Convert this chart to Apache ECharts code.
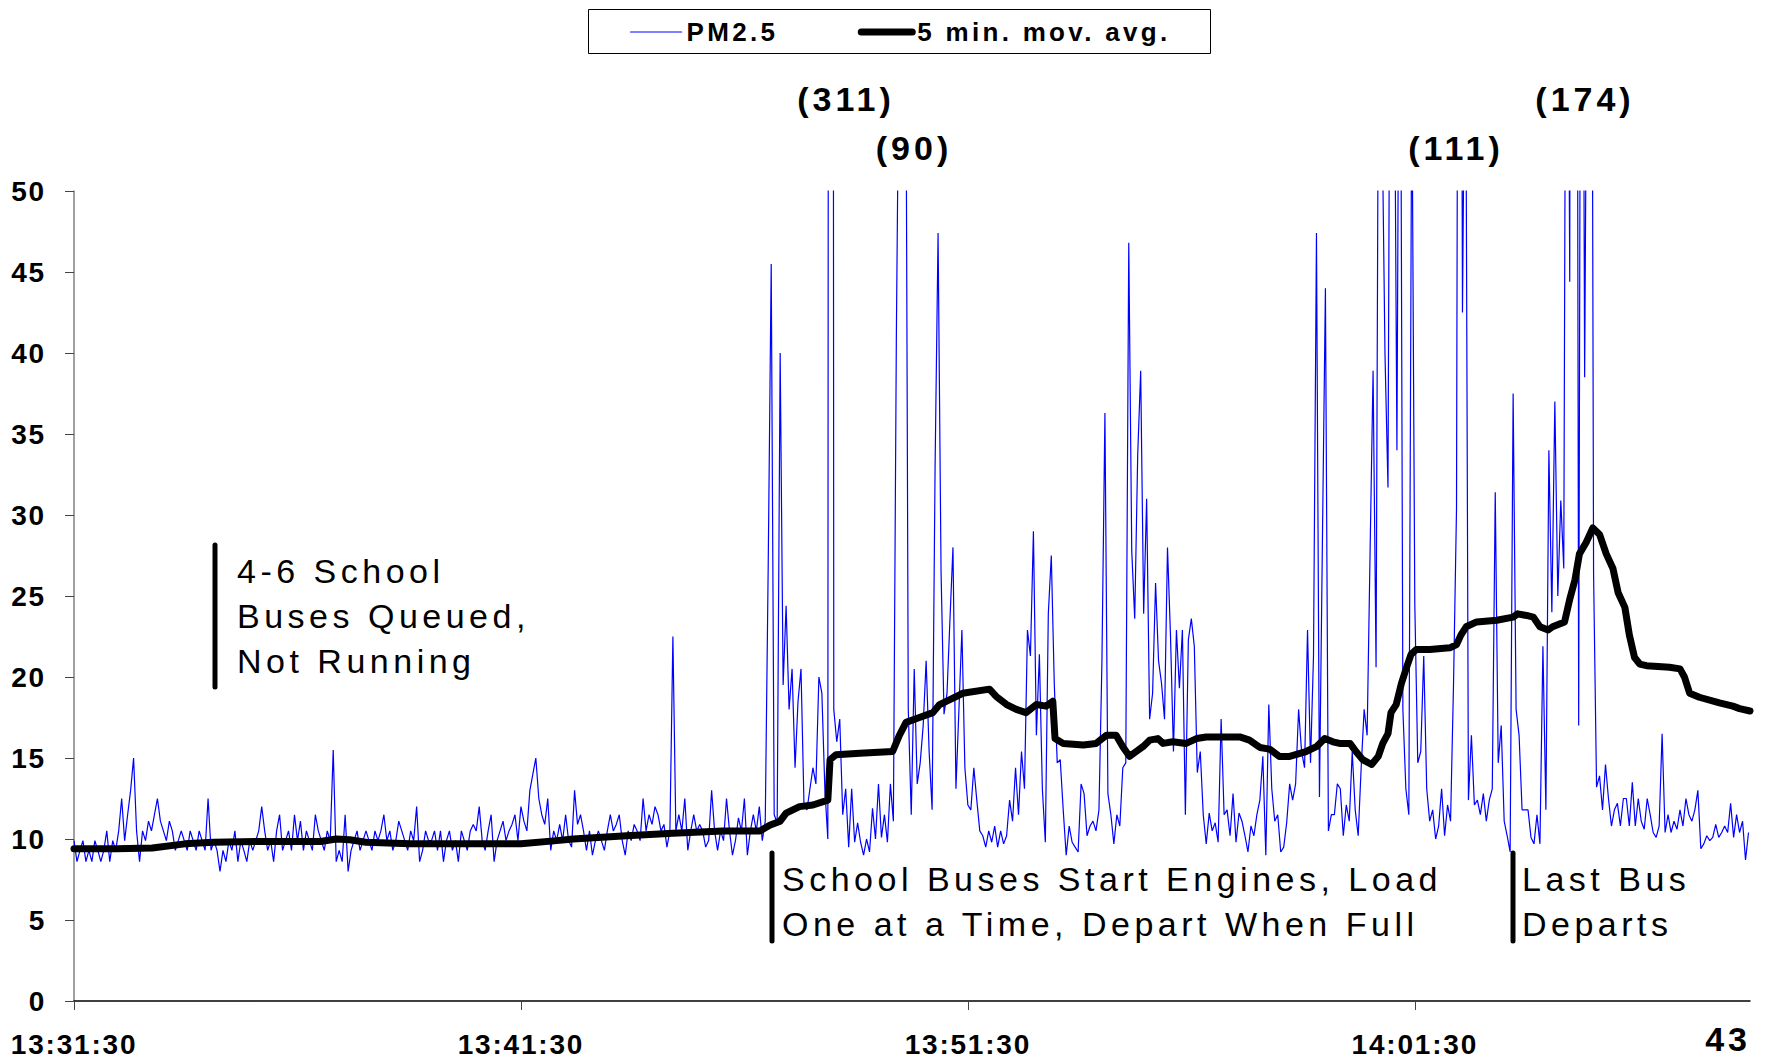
<!DOCTYPE html>
<html>
<head>
<meta charset="utf-8">
<title>PM2.5 near queued school buses</title>
<script src="https://cdn.jsdelivr.net/npm/echarts@6/dist/echarts.min.js"></script>
<style>
  html, body { margin: 0; padding: 0; background: #ffffff; }
  #chart { width: 1765px; height: 1063px; }
</style>
</head>
<body>
<div id="chart"></div>
<script>
// PM2.5 readings, one every SAMPLE_STEP seconds starting at 13:31:30 (one row per minute)
const SAMPLE_STEP = 4;
const pm25 = [
  9.9, 8.6, 9.3, 9.9, 8.6, 9.3, 8.6, 9.9, 9.3, 8.6, 9.3, 10.5, 8.6, 9.9, 9.3,
  10.5, 12.5, 9.9, 11.5, 13.0, 15.0, 10.5, 8.6, 10.5, 9.9, 11.1, 10.5, 11.5, 12.5, 11.1,
  10.5, 9.9, 11.1, 10.5, 9.3, 9.9, 10.5, 9.9, 9.3, 10.5, 9.9, 9.3, 10.5, 9.9, 9.3,
  12.5, 9.3, 9.9, 9.3, 8.0, 9.3, 8.6, 9.9, 9.3, 10.5, 8.6, 9.9, 9.3, 8.6, 9.9,
  9.3, 9.9, 10.5, 12.0, 10.5, 9.3, 9.9, 8.6, 10.5, 11.5, 9.3, 9.9, 10.5, 9.3, 11.5,
  9.9, 11.1, 9.3, 10.5, 9.9, 9.3, 11.5, 10.5, 9.9, 9.3, 10.5, 9.9, 15.5, 8.6, 9.3,
  8.6, 11.5, 8.0, 9.3, 9.9, 10.5, 9.3, 9.9, 10.5, 9.9, 9.3, 10.5, 9.9, 10.5, 11.5,
  9.9, 10.5, 9.3, 9.9, 11.1, 10.5, 9.9, 9.3, 10.5, 9.9, 12.0, 8.6, 9.3, 10.5, 9.9,
  9.9, 10.5, 9.3, 10.5, 8.6, 9.9, 10.5, 9.3, 9.9, 8.6, 10.5, 9.9, 9.3, 10.5, 10.9,
  10.5, 12.0, 9.9, 9.3, 10.5, 11.5, 8.6, 9.9, 10.5, 11.1, 9.9, 10.5, 10.9, 11.5, 9.9,
  12.0, 11.1, 10.5, 13.0, 14.0, 15.0, 12.5, 11.5, 10.9, 12.5, 9.3, 10.5, 9.9, 10.9, 9.9,
  11.5, 9.9, 9.5, 13.0, 10.9, 11.5, 10.5, 9.3, 10.5, 9.0, 9.9, 10.5, 9.9, 9.3, 10.5,
  11.5, 10.5, 10.9, 11.5, 9.9, 9.0, 10.5, 9.9, 10.9, 10.5, 9.9, 12.5, 10.5, 11.5, 10.9,
  12.0, 11.5, 10.5, 10.9, 9.5, 10.5, 22.5, 10.5, 11.5, 10.5, 12.5, 9.3, 10.5, 11.5, 10.5,
  10.9, 10.5, 9.5, 9.9, 13.0, 10.5, 9.3, 10.5, 9.9, 12.5, 10.5, 9.0, 9.9, 11.3, 10.5,
  12.5, 9.0, 10.5, 11.5, 10.5, 12.0, 9.9, 11.1, 27.0, 45.5, 11.5, 11.0, 40.0, 19.5, 24.4,
  18.0, 20.5, 14.4, 18.5, 20.5, 12.1, 11.8, 13.1, 14.4, 13.4, 20.0, 19.0, 13.1, 10.0, 311,
  18.0, 16.0, 17.4, 11.5, 13.1, 9.5, 13.1, 9.8, 11.0, 9.8, 9.0, 10.0, 9.2, 11.9, 10.0,
  13.4, 10.1, 11.5, 9.8, 13.4, 11.1, 41.0, 62.0, 90, 70.0, 18.0, 11.5, 20.5, 13.4, 14.7,
  17.0, 21.0, 15.4, 11.8, 33.0, 47.4, 26.5, 17.7, 19.0, 23.6, 28.0, 13.1, 18.0, 22.9, 14.4,
  12.1, 11.8, 14.4, 12.4, 10.5, 10.2, 9.5, 10.5, 9.8, 10.8, 9.5, 10.5, 9.7, 10.2, 12.4,
  11.1, 14.4, 11.5, 15.4, 13.1, 22.9, 21.3, 29.0, 16.4, 21.4, 13.1, 9.8, 23.9, 27.5, 19.6,
  14.7, 14.9, 11.8, 9.0, 10.8, 9.8, 9.5, 9.2, 13.4, 12.8, 10.2, 10.8, 11.1, 10.5, 11.8,
  21.0, 36.3, 12.8, 11.5, 9.7, 11.5, 10.8, 14.4, 14.7, 46.8, 27.8, 23.6, 33.7, 38.9, 23.9,
  31.0, 17.4, 19.0, 25.8, 21.0, 19.6, 17.4, 28.0, 22.6, 15.4, 22.9, 19.3, 22.9, 11.5, 22.3,
  23.6, 21.9, 14.1, 15.4, 11.5, 9.7, 11.6, 10.5, 11.0, 9.8, 17.4, 11.5, 11.8, 10.2, 12.8,
  9.8, 11.6, 11.1, 10.2, 9.2, 10.8, 10.2, 11.5, 12.4, 15.1, 9.0, 18.3, 13.1, 11.1, 11.5,
  9.2, 9.5, 11.0, 13.4, 12.4, 13.4, 18.0, 15.4, 14.4, 22.9, 14.7, 21.3, 47.4, 12.6, 28.5,
  44.0, 10.5, 11.5, 11.5, 13.4, 13.1, 10.2, 12.1, 11.1, 15.4, 11.8, 10.2, 14.4, 18.0, 16.4,
  27.8, 38.9, 20.6, 70.0, 55.0, 39.9, 31.7, 80.0, 65.0, 34.0, 75.0, 18.0, 13.1, 11.5, 58.0,
  24.5, 14.7, 15.4, 21.3, 13.1, 11.1, 11.8, 10.0, 10.8, 13.1, 10.2, 12.1, 11.1, 19.6, 30.4,
  111, 42.5, 65.0, 12.4, 16.4, 12.1, 12.4, 11.5, 12.8, 11.1, 12.4, 13.1, 31.4, 14.7, 17.0,
  11.1, 10.2, 9.2, 37.5, 18.0, 16.4, 11.8, 11.8, 11.8, 10.1, 9.7, 11.5, 9.7, 21.9, 11.8,
  34.0, 24.0, 37.0, 25.0, 30.9, 26.7, 85.0, 44.4, 174, 120.0, 17.0, 95.0, 38.5, 70.0, 100.0,
  26.4, 13.2, 13.9, 11.8, 14.6, 12.5, 10.8, 11.8, 12.2, 10.8, 12.5, 12.5, 10.8, 13.5, 10.8,
  12.5, 11.1, 10.6, 12.5, 11.5, 10.4, 10.1, 10.8, 16.5, 10.4, 11.5, 10.4, 11.1, 10.6, 11.8,
  10.8, 12.5, 11.5, 11.1, 11.8, 13.0, 9.4, 9.7, 10.2, 9.9, 10.1, 10.9, 10.1, 10.4, 10.8,
  10.4, 12.2, 10.1, 11.5, 10.4, 11.1, 8.7, 10.4
];

// 5-minute moving average: seconds after 13:31:30 and the averaged value
const maTime = [
  0, 57, 105, 149, 187, 250, 331, 352, 370, 392,
  451, 518, 600, 648, 670, 742, 804, 871, 921, 934,
  948, 956, 974, 992, 1012, 1015, 1023, 1055, 1099, 1108,
  1117, 1135, 1153, 1162, 1189, 1193, 1229, 1238, 1252, 1265,
  1278, 1292, 1305, 1314, 1317, 1328, 1355, 1372, 1386, 1399,
  1408, 1417, 1426, 1435, 1444, 1455, 1462, 1475, 1493, 1507,
  1520, 1565, 1578, 1592, 1605, 1618, 1632, 1654, 1668, 1679,
  1690, 1699, 1713, 1721, 1730, 1742, 1751, 1757, 1764, 1768,
  1775, 1782, 1789, 1795, 1802, 1820, 1847, 1856, 1862, 1869,
  1883, 1910, 1932, 1938, 1950, 1959, 1968, 1979, 1985, 2001,
  2008, 2015, 2021, 2030, 2039, 2048, 2057, 2066, 2073, 2082,
  2088, 2095, 2102, 2111, 2142, 2156, 2162, 2169, 2182, 2209,
  2227, 2236, 2250
];
const maValue = [
  9.4, 9.4, 9.45, 9.7, 9.8, 9.85, 9.85, 10.0, 9.95, 9.8,
  9.7, 9.7, 9.7, 9.9, 10.0, 10.2, 10.35, 10.5, 10.5, 10.85,
  11.1, 11.6, 12.0, 12.1, 12.4, 14.9, 15.2, 15.3, 15.4, 16.4,
  17.2, 17.5, 17.8, 18.3, 18.9, 19.0, 19.25, 18.8, 18.3, 18.0,
  17.8, 18.3, 18.2, 18.5, 16.2, 15.9, 15.8, 15.9, 16.4, 16.4,
  15.7, 15.1, 15.4, 15.7, 16.1, 16.2, 15.9, 16.0, 15.9, 16.2,
  16.3, 16.3, 16.1, 15.65, 15.55, 15.1, 15.1, 15.4, 15.7, 16.2,
  16.0, 15.9, 15.9, 15.4, 14.9, 14.6, 15.1, 15.9, 16.5, 17.8,
  18.3, 19.6, 20.6, 21.4, 21.7, 21.7, 21.8, 22.0, 22.6, 23.1,
  23.4, 23.5, 23.7, 23.9, 23.8, 23.7, 23.1, 22.9, 23.1, 23.4,
  24.8, 26.0, 27.6, 28.3, 29.2, 28.8, 27.6, 26.7, 25.2, 24.3,
  22.6, 21.2, 20.8, 20.7, 20.6, 20.5, 20.0, 19.0, 18.75, 18.4,
  18.2, 18.05, 17.9
];

// x-axis ticks (seconds after 13:31:30) and their clock labels
const tickSeconds = [0, 600, 1200, 1800];
const tickLabels = ['13:31:30', '13:41:30', '13:51:30', '14:01:30'];

// peak readings that run off the top of the scale
const peakValues = [311, 90, 111, 174];

const seriesNames = ['PM2.5', '5 min. mov. avg.'];

const FONT = '"Liberation Sans", Arial, Helvetica, sans-serif';

const chart = echarts.init(document.getElementById('chart'), null, { renderer: 'svg' });

const pmData = pm25.map((v, i) => [i * SAMPLE_STEP, v]);
const maData = maTime.map((t, i) => [t, maValue[i]]);

// peak label anchors (pixels)
const peakPos = [[846, 99], [914, 148], [1456, 148], [1585, 99]];

// annotation blocks: marker bar [x, y1, y2] and text top-left
const notes = [
  { bar: [215, 545, 687], x: 237, y: 548, text: '4-6 School\nBuses Queued,\nNot Running' },
  { bar: [772, 853, 941], x: 782, y: 856, text: 'School Buses Start Engines, Load\nOne at a Time, Depart When Full' },
  { bar: [1513, 853, 941], x: 1522, y: 856, text: 'Last Bus\nDeparts' }
];

const graphics = [
  // legend frame
  { type: 'rect', z: 1, shape: { x: 588.5, y: 9.5, width: 622, height: 44 },
    style: { fill: 'none', stroke: '#000', lineWidth: 1 } },
  // slide number
  { type: 'text', z: 10, x: 1751, y: 1039,
    style: { text: '43', font: 'bold 34px ' + FONT, fill: '#000', align: 'right', verticalAlign: 'middle' } }
];
peakValues.forEach((v, i) => {
  graphics.push({ type: 'text', z: 10, x: peakPos[i][0], y: peakPos[i][1],
    style: { text: '(' + v + ')', font: 'bold 34px ' + FONT, fill: '#000', align: 'center', verticalAlign: 'middle' } });
});
notes.forEach(n => {
  graphics.push({ type: 'line', z: 10, shape: { x1: n.bar[0], y1: n.bar[1], x2: n.bar[0], y2: n.bar[2] },
    style: { stroke: '#000', lineWidth: 5, lineCap: 'round' } });
  graphics.push({ type: 'text', z: 10, x: n.x, y: n.y,
    style: { text: n.text, font: '34px ' + FONT, lineHeight: 45, fill: '#000', align: 'left', verticalAlign: 'top' } });
});

chart.setOption({
  animation: false,
  backgroundColor: '#ffffff',
  grid: { left: 74, right: 15, top: 191, bottom: 62, containLabel: false },
  legend: {
    left: 630, top: 19, padding: 0, itemGap: 96, itemWidth: 51, itemHeight: 26,
    selectedMode: false,
    itemStyle: { color: 'rgba(0,0,0,0)', borderWidth: 0, opacity: 0 },
    lineStyle: { width: 'inherit', cap: 'round' },
    textStyle: { fontFamily: FONT, fontWeight: 'bold', fontSize: 26, color: '#000' },
    data: seriesNames
  },
  xAxis: {
    type: 'value', min: 0, max: 2250, interval: 600,
    axisLine: { onZero: false, lineStyle: { color: '#000', width: 1.5 } },
    axisTick: { show: true, length: 9, customValues: tickSeconds, lineStyle: { color: '#444', width: 1 } },
    axisLabel: {
      customValues: tickSeconds, margin: 29,
      fontFamily: FONT, fontWeight: 'bold', fontSize: 28, color: '#000',
      formatter: v => tickLabels[tickSeconds.indexOf(v)] || ''
    },
    splitLine: { show: false }
  },
  yAxis: {
    type: 'value', min: 0, max: 50, interval: 5,
    axisLine: { show: true, lineStyle: { color: '#808080', width: 1.5 } },
    axisTick: { show: true, length: 9, lineStyle: { color: '#444', width: 1 } },
    axisLabel: { margin: 28, fontFamily: FONT, fontWeight: 'bold', fontSize: 28, color: '#000' },
    splitLine: { show: false }
  },
  series: [
    {
      name: seriesNames[0], type: 'line', data: pmData, symbol: 'none', clip: true, z: 2,
      lineStyle: { color: '#0000ff', width: 1.2 }, itemStyle: { color: '#0000ff' }
    },
    {
      name: seriesNames[1], type: 'line', data: maData, symbol: 'none', clip: true, z: 3,
      lineStyle: { color: '#000000', width: 7, cap: 'round', join: 'round' }, itemStyle: { color: '#000000' }
    }
  ],
  graphic: graphics
});

// Widen the letter spacing of the drawn text, per text style
function spaceLetters() {
  document.querySelectorAll('#chart svg text').forEach(el => {
    const cs = getComputedStyle(el);
    const size = Math.round(parseFloat(cs.fontSize));
    const bold = cs.fontWeight === 'bold' || parseInt(cs.fontWeight, 10) >= 600;
    let gap = 0;
    if (!bold && size === 34) gap = 4.5;      // annotation text
    else if (bold && size === 34) gap = 4;    // peak values and slide number
    else if (bold && size === 26) gap = 3.3;  // legend entries
    else if (bold && size === 28) gap = 1.8;  // axis labels
    el.style.letterSpacing = gap + 'px';
  });
}
chart.on('finished', spaceLetters);
spaceLetters();
setTimeout(spaceLetters, 50);
setTimeout(spaceLetters, 300);
</script>
</body>
</html>
